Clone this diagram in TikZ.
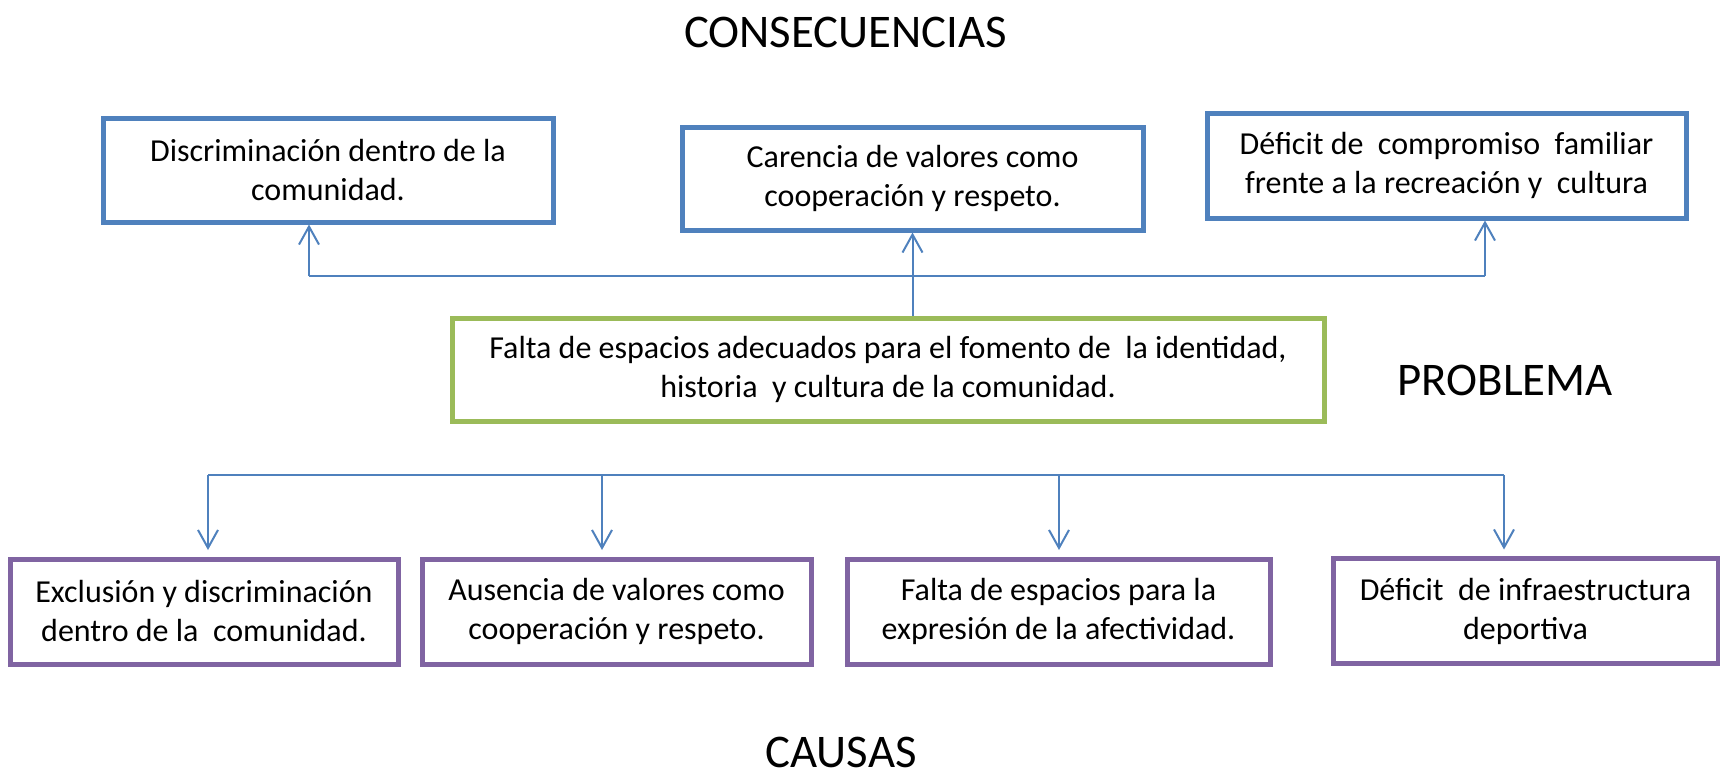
\documentclass[tikz,border=0pt]{standalone}
\usepackage{fontspec}
\setmainfont{Carlito}
\usetikzlibrary{arrows.meta}
\definecolor{azul}{RGB}{79,129,189}
\definecolor{verde}{RGB}{155,187,89}
\definecolor{morado}{RGB}{128,100,162}

\begin{document}
\begin{tikzpicture}[x=1pt, y=-1pt,
  caja/.style={draw, line width=5pt, align=center, inner sep=0pt,
    font=\fontsize{32}{39}\selectfont},
  consec/.style={caja, draw=azul},
  causa/.style={caja, draw=morado},
  titulo/.style={anchor=base, inner sep=0pt, font=\fontsize{46.8}{50}\selectfont},
  linea/.style={draw=azul, line width=2pt},
  flecha/.style={linea, -{Straight Barb[length=18pt, width=20pt]}}]
  \useasboundingbox (0,0) rectangle (1720,774);

  % titulos
  \node[titulo] (tcons) at (845.5,47) {CONSECUENCIAS};
  \node[titulo] (tprob) at (1505,395) {PROBLEMA};
  \node[titulo] (tcaus) at (841,767) {CAUSAS};

  % consecuencias
  \node[consec, minimum width=450pt, minimum height=104pt] (con1) at (328,170)
    {Discriminación dentro de la\\comunidad.};
  \node[consec, minimum width=461pt, minimum height=103pt] (con2) at (912.5,178.5)
    {Carencia de valores como\\cooperación y respeto.};
  \node[consec, minimum width=479pt, minimum height=105pt] (con3) at (1446.5,165.5)
    {Déficit de~ compromiso~ familiar\\frente a la recreación y~ cultura};

  % problema
  \node[caja, draw=verde, minimum width=872pt, minimum height=103pt] (prob) at (888,369.5)
    {Falta de espacios adecuados para el fomento de~ la identidad,\\historia~ y cultura de la comunidad.};

  % causas
  \node[causa, minimum width=388pt, minimum height=105pt] (cau1) at (204,611.5)
    {Exclusión y discriminación\\dentro de la~ comunidad.};
  \node[causa, minimum width=389pt, minimum height=105pt] (cau2) at (616.5,611.5)
    {Ausencia de valores como\\cooperación y respeto.};
  \node[causa, minimum width=423pt, minimum height=105pt] (cau3) at (1058.5,611.5)
    {Falta de espacios para la\\expresión de la afectividad.};
  \node[causa, minimum width=385pt, minimum height=105pt] (cau4) at (1525.5,611)
    {Déficit~ de infraestructura\\deportiva};

  % conectores de arriba
  \coordinate (ci) at (309,276);
  \coordinate (cd) at (1485,276);
  \draw[linea] (ci) -- (cd);
  \draw[flecha] (ci) -- (ci |- con1.south);
  \draw[flecha] (cd) -- (cd |- con3.south);
  \draw[flecha] (prob.north -| con2.south) -- (con2.south);

  % conectores de abajo
  \coordinate (b1) at (208,475);
  \coordinate (b2) at (602,475);
  \coordinate (b3) at (1059,475);
  \coordinate (b4) at (1504,475);
  \draw[linea] (b1) -- (b4);
  \foreach \i in {1,...,4}
    \draw[flecha, shorten >=6.5pt] (b\i) -- (b\i |- cau\i.north);
\end{tikzpicture}
\end{document}
